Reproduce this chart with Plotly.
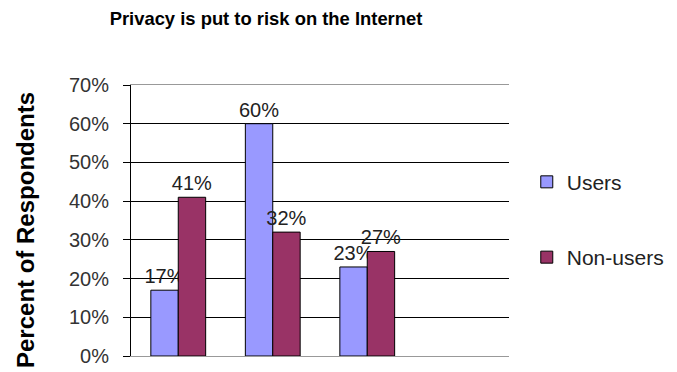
import plotly.graph_objects as go

categories = [0, 1, 2]
users = [17, 60, 23]
non_users = [41, 32, 27]
tick_vals = [0, 10, 20, 30, 40, 50, 60, 70]
tick_text = ["0%", "10%", "20%", "30%", "40%", "50%", "60%", "70%"]

font_family = "Liberation Sans, Arial, sans-serif"
label_size = 20

# The page body has an 8px default margin, so the figure is 8px smaller
W, H = 669, 364
L, R, T, B = 123, 168, 77, 16
PW, PH = W - L - R, H - T - B

fig = go.Figure()
fig.add_trace(go.Bar(
    x=categories, y=users, name="Users",
    marker=dict(color="#9999FF", line=dict(color="#000000", width=1)),
    text=[f"{v}%" for v in users], textposition="outside", constraintext="none",
    textfont=dict(size=label_size, color="#222222", family=font_family),
    cliponaxis=False, legendgroup="a",
))
fig.add_trace(go.Bar(
    x=categories, y=non_users, name="Non-users",
    marker=dict(color="#993366", line=dict(color="#000000", width=1)),
    text=[f"{v}%" for v in non_users], textposition="outside", constraintext="none",
    textfont=dict(size=label_size, color="#222222", family=font_family),
    cliponaxis=False, legendgroup="b",
))

fig.add_annotation(
    text="<b>Percent of Respondents</b>", textangle=-90,
    xref="paper", yref="paper", x=(17 - L) / PW, y=(H - B - 222) / PH,
    xanchor="center", yanchor="middle", showarrow=False,
    font=dict(size=24, color="#000000", family=font_family),
)

fig.update_layout(
    width=W, height=H,
    margin=dict(l=L, r=R, t=T, b=B, autoexpand=False),
    paper_bgcolor="white", plot_bgcolor="white",
    barmode="group", bargap=0.42, bargroupgap=0,
    title=dict(text="<b>Privacy is put to risk on the Internet</b>",
               x=258 / W, xanchor="center", y=1 - 11 / H, yanchor="middle",
               font=dict(size=18.4, color="#000000", family=font_family)),
    font=dict(family=font_family),
    showlegend=True,
    legend=dict(x=1.047, xanchor="left", y=0.717, yanchor="top",
                font=dict(size=21, color="#222222", family=font_family),
                tracegroupgap=45, bgcolor="rgba(0,0,0,0)"),
    xaxis=dict(range=[-0.5, 3.5], showticklabels=False, ticks="",
               showgrid=False, zeroline=False, showline=True, automargin=False,
               linecolor="#999999", linewidth=1, mirror=True),
    yaxis=dict(range=[0, 70], tickvals=tick_vals, ticktext=tick_text,
               ticks="outside", ticklen=7, tickcolor="#000000",
               ticklabelstandoff=10, automargin=False,
               showgrid=True, gridcolor="#000000", gridwidth=1,
               zeroline=False, showline=True, linecolor="#000000", linewidth=1,
               tickfont=dict(size=label_size, color="#333333", family=font_family)),
)

fig.write_html("out.html")
